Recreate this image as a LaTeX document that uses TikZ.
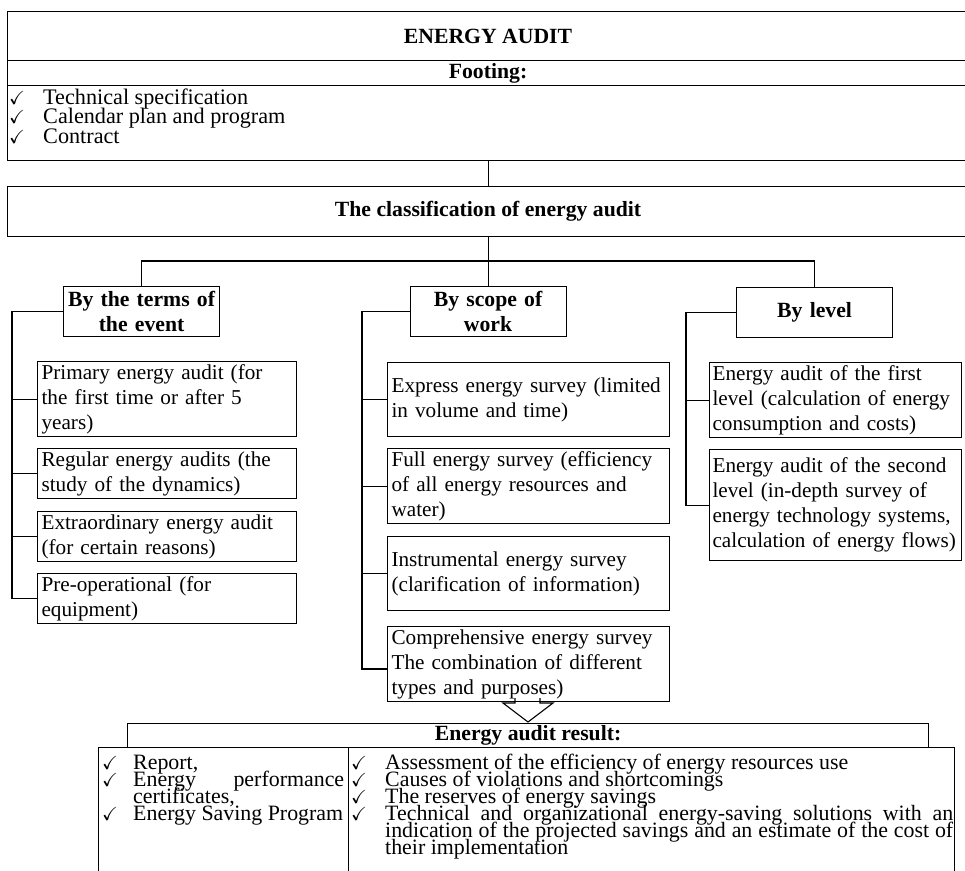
\documentclass[tikz,border=0pt]{standalone}
\usepackage{amssymb}
\usepackage{fontspec}
\setmainfont{Liberation Serif}
\newcommand\bodyfont{\fontsize{21.2pt}{25pt}\selectfont\hyphenpenalty=10000\relax}
\newcommand\boldfont{\fontsize{21.7pt}{25pt}\selectfont\bfseries}
\newcommand\tightfont[2]{\fontsize{#1}{#2}\selectfont\lineskiplimit=-100pt\lineskip=0pt\hyphenpenalty=10000\exhyphenpenalty=10000\tolerance=9999\hbadness=10000\relax}
\newcommand\chk{{\fontsize{19pt}{19pt}\selectfont$\checkmark$}}
\newcommand\chkitem[2]{\noindent\hangindent=#1\hangafter=1\makebox[#1][l]{\chk}#2\par}
\newcommand\boxlines[1]{\begin{tabular}{@{}l@{}}#1\end{tabular}}
\begin{document}
\begin{tikzpicture}[x=1pt,y=-1pt,
  every node/.style={inner sep=0pt},
  ln/.style={line width=1.1pt},
  frame/.style={draw, line width=1.1pt, anchor=north west, inner sep=0pt},
  hdr/.style={frame, font=\boldfont, align=center},
  grp/.style={frame, font=\boldfont, align=center, minimum height=50pt, text width=148pt, inner xsep=4pt},
  itm/.style={frame, font=\bodyfont, align=left, inner xsep=4pt, inner ysep=0pt},
  lst/.style={anchor=base west, align=justify, inner sep=0pt},
]
\useasboundingbox (0,0) rectangle (965,870);
\clip (0,0) rectangle (965,870);

% top block
\node[hdr, minimum width=961pt, minimum height=49pt] (ea) at (7,11) {\raisebox{-2.5pt}{ENERGY AUDIT}};
\node[hdr, minimum width=961pt, minimum height=25pt] (foot) at (7,60) {Footing:};
\node[frame, minimum width=961pt, minimum height=75pt] (footbox) at (7,85) {};
\node[lst, text width=600pt, font={\tightfont{22.2pt}{19.5pt}}] (footlist) at (9,104)
  {\chkitem{34pt}{Technical specification}\chkitem{34pt}{Calendar plan and program}\chkitem{34pt}{Contract}};

\node[hdr, minimum width=961pt, minimum height=50pt] (cls) at (7,186) {The classification of energy audit};

% group headers
\node[grp] (terms) at (63,286) {By the terms of\\the event};
\node[grp] (scope) at (409.5,286) {By scope of\\work};
\node[grp] (level) at (736,287) {By level};

% left column
\node[itm, text width=251pt, minimum height=75pt] (t1) at (37,361) {\boxlines{Primary energy audit (for\\the first time or after 5\\years)}};
\node[itm, text width=251pt, minimum height=50pt] (t2) at (37,448) {\boxlines{Regular energy audits (the\\study of the dynamics)}};
\node[itm, text width=251pt, minimum height=50pt] (t3) at (37,511) {\boxlines{Extraordinary energy audit\\(for certain reasons)}};
\node[itm, text width=251pt, minimum height=50pt] (t4) at (37,573) {\boxlines{Pre-operational (for\\equipment)}};

% middle column
\node[itm, text width=274pt, minimum height=74pt] (s1) at (387,362) {\boxlines{Express energy survey (limited\\in volume and time)}};
\node[itm, text width=274pt, minimum height=74pt] (s2) at (387,448) {\boxlines{Full energy survey (efficiency\\of all energy resources and\\water)}};
\node[itm, text width=274pt, minimum height=74pt] (s3) at (387,536) {\boxlines{Instrumental energy survey\\(clarification of information)}};
\node[itm, text width=274pt, minimum height=72pt] (s4) at (387,626) {\boxlines{Comprehensive energy survey\\The combination of different\\types and purposes)}};

% right column
\node[itm, inner xsep=3pt, text width=246pt, minimum height=74pt] (l1) at (709,362) {\boxlines{Energy audit of the first\\level (calculation of energy\\consumption and costs)}};
\node[itm, inner xsep=3pt, text width=246pt, minimum height=111pt] (l2) at (709,449) {\boxlines{Energy audit of the second\\level (in-depth survey of\\energy technology systems,\\calculation of energy flows)}};

% result
\node[hdr, minimum width=801pt, minimum height=24pt] (res) at (127,723) {Energy audit result:};
\node[frame, minimum width=250pt, minimum height=140pt] (rl) at (98,747) {};
\node[frame, minimum width=606pt, minimum height=140pt] (rr) at (348,747) {};
\node[lst, text width=242pt, font={\tightfont{21.9pt}{17pt}}] (rlt) at (102,769)
  {\chkitem{31pt}{Report,}\chkitem{31pt}{Energy performance certificates,}\chkitem{31pt}{Energy Saving Program}};
\node[lst, text width=602pt, font={\tightfont{21.9pt}{17pt}}] (rrt) at (351,769)
  {\chkitem{34pt}{Assessment of the efficiency of energy resources use}\chkitem{34pt}{Causes of violations and shortcomings}\chkitem{34pt}{The reserves of energy savings}\chkitem{34pt}{Technical and organizational energy-saving solutions with an indication of the projected savings and an estimate of the cost of their implementation}};

% connectors
\coordinate (bus) at (487.5,261);
\coordinate (tbx) at (12,0);
\coordinate (sbx) at (362,0);
\coordinate (lbx) at (686,0);
\coordinate (s4in) at (387,669);
\draw[ln] (footbox.south) -- (cls.north);
\draw[ln] (cls.south) -- (scope.north);
\draw[ln] (terms.north) |- (bus) -| (level.north);
\draw[ln] (terms.west) -- (terms.west -| tbx) -- (tbx |- t4.west) -- (t4.west);
\foreach \n in {t1,t2,t3} \draw[ln] (tbx |- \n.west) -- (\n.west);
\draw[ln] (scope.west) -- (scope.west -| sbx) -- (sbx |- s4in) -- (s4in);
\foreach \n in {s1,s2,s3} \draw[ln] (sbx |- \n.west) -- (\n.west);
\draw[ln] (level.west) -- (level.west -| lbx) -- (lbx |- l2.west) -- (l2.west);
\draw[ln] (lbx |- l1.west) -- (l1.west);

% hollow arrow
\draw[ln, line join=miter] (515,698) -- (515,703) -- (503,703) -- (528,722) -- (553,703) -- (540,703) -- (540,698);
\end{tikzpicture}
\end{document}
